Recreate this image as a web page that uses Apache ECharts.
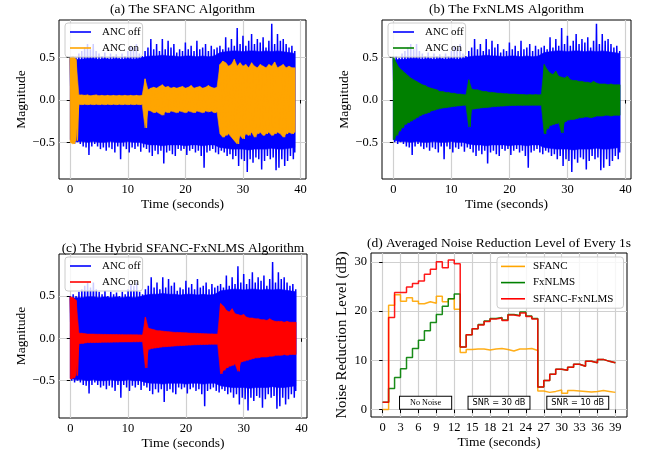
<!DOCTYPE html>
<html><head><meta charset="utf-8">
<script src="https://cdn.jsdelivr.net/npm/echarts@6/dist/echarts.min.js"></script>
<style>html,body{margin:0;padding:0;background:#fff}#c{width:652px;height:456px}</style>
</head><body><div id="c"></div>
<script>
// ---------- data ----------
const sampleStep = 0.5; // seconds between envelope (peak) readings, t = 0 ... 39
const coreStep = 1;     // seconds between dense-core readings, t = 0 ... 39
// ANC off: peak envelope (needles) and dense core envelope
const offUpper = [0.50,0.52,0.50,0.55,0.58,0.62,0.66,0.60,0.66,0.58,0.55,0.52,0.56,0.50,0.55,0.52,0.54,0.50,0.55,0.52,0.58,0.64,0.62,0.66,0.55,0.52,
  0.58,0.62,0.72,0.60,0.66,0.58,0.72,0.60,0.70,0.62,0.66,0.56,0.60,0.58,0.68,0.60,0.64,0.58,0.70,0.60,0.62,0.66,0.58,0.64,0.60,0.62,
  0.64,0.60,0.74,0.62,0.72,0.64,0.85,0.66,0.76,0.64,0.70,0.78,0.66,0.72,0.68,0.74,0.62,0.70,0.90,0.66,0.78,0.70,0.72,0.66,0.62,0.64,0.58];
const offLower = [-0.50,-0.52,-0.50,-0.52,-0.55,-0.56,-0.65,-0.55,-0.52,-0.55,-0.58,-0.56,-0.60,-0.56,-0.58,-0.62,-0.55,-0.70,-0.55,-0.58,-0.62,-0.56,-0.58,-0.55,-0.61,-0.56,
  -0.58,-0.62,-0.66,-0.60,-0.64,-0.60,-0.75,-0.62,-0.60,-0.64,-0.66,-0.58,-0.60,-0.58,-0.65,-0.60,-0.58,-0.62,-0.60,-0.66,-0.80,-0.62,-0.60,-0.58,-0.62,-0.64,
  -0.60,-0.62,-0.66,-0.64,-0.70,-0.66,-0.78,-0.70,-0.72,-0.85,-0.70,-0.74,-0.68,-0.70,-0.82,-0.72,-0.66,-0.70,-0.68,-0.83,-0.80,-0.70,-0.78,-0.72,-0.66,-0.70,-0.62];
const offCoreUpper = [0.47,0.48,0.48,0.49,0.49,0.48,0.49,0.48,0.49,0.48,0.49,0.48,0.49,
  0.51,0.52,0.52,0.53,0.52,0.52,0.51,0.52,0.52,0.51,0.52,0.51,0.52,
  0.56,0.57,0.58,0.58,0.57,0.58,0.58,0.57,0.58,0.57,0.58,0.57,0.56,0.55];
const offCoreLower = [-0.47,-0.49,-0.49,-0.50,-0.49,-0.50,-0.50,-0.49,-0.50,-0.50,-0.49,-0.50,-0.50,
  -0.52,-0.53,-0.53,-0.54,-0.53,-0.53,-0.53,-0.54,-0.53,-0.53,-0.54,-0.53,-0.53,
  -0.56,-0.57,-0.58,-0.58,-0.58,-0.59,-0.58,-0.58,-0.58,-0.57,-0.58,-0.58,-0.57,-0.56];
// ANC on envelopes
const sfancUpper = [0.50,0.52,0.48,0.06,0.06,0.055,0.06,0.05,0.055,0.06,0.05,0.055,0.05,0.055,0.05,0.055,0.05,0.055,0.05,0.055,0.05,0.055,0.05,0.055,0.05,0.055,
  0.25,0.12,0.14,0.15,0.14,0.16,0.18,0.15,0.16,0.14,0.15,0.14,0.15,0.16,0.14,0.15,0.17,0.14,0.15,0.16,0.14,0.15,0.17,0.15,0.14,0.15,
  0.42,0.46,0.44,0.40,0.42,0.48,0.40,0.44,0.40,0.42,0.38,0.44,0.40,0.38,0.42,0.40,0.38,0.42,0.40,0.45,0.38,0.40,0.42,0.38,0.40,0.38,0.38];
const sfancLower = [-0.50,-0.52,-0.48,-0.05,-0.055,-0.05,-0.055,-0.05,-0.055,-0.05,-0.055,-0.05,-0.055,-0.05,-0.055,-0.05,-0.055,-0.05,-0.055,-0.05,-0.055,-0.05,-0.055,-0.05,-0.055,-0.05,
  -0.33,-0.12,-0.13,-0.15,-0.14,-0.16,-0.18,-0.14,-0.15,-0.13,-0.14,-0.15,-0.13,-0.14,-0.15,-0.13,-0.14,-0.15,-0.13,-0.14,-0.15,-0.13,-0.14,-0.13,-0.15,-0.14,
  -0.40,-0.44,-0.42,-0.40,-0.44,-0.48,-0.52,-0.42,-0.46,-0.40,-0.42,-0.38,-0.44,-0.40,-0.38,-0.42,-0.40,-0.38,-0.42,-0.40,-0.38,-0.40,-0.44,-0.40,-0.38,-0.40,-0.38];
const fxnlmsUpper = [0.52,0.44,0.38,0.35,0.32,0.29,0.26,0.24,0.22,0.20,0.18,0.17,0.15,0.14,0.13,0.12,0.10,0.10,0.09,0.09,0.08,0.08,0.07,0.07,0.065,0.06,
  0.24,0.13,0.12,0.12,0.11,0.10,0.10,0.09,0.09,0.085,0.08,0.08,0.075,0.075,0.07,0.07,0.07,0.065,0.065,0.065,0.06,0.065,0.06,0.065,0.06,0.065,
  0.42,0.36,0.32,0.30,0.34,0.28,0.27,0.26,0.28,0.24,0.23,0.23,0.22,0.22,0.21,0.21,0.20,0.22,0.20,0.19,0.19,0.19,0.18,0.19,0.18,0.18,0.18];
const fxnlmsLower = [-0.47,-0.42,-0.37,-0.33,-0.29,-0.27,-0.25,-0.23,-0.21,-0.19,-0.17,-0.16,-0.15,-0.13,-0.12,-0.11,-0.10,-0.095,-0.09,-0.085,-0.08,-0.075,-0.07,-0.068,-0.063,-0.06,
  -0.32,-0.11,-0.105,-0.10,-0.095,-0.09,-0.088,-0.085,-0.08,-0.078,-0.075,-0.072,-0.07,-0.068,-0.066,-0.065,-0.064,-0.063,-0.063,-0.062,-0.062,-0.062,-0.062,-0.062,-0.062,-0.062,
  -0.40,-0.34,-0.30,-0.29,-0.28,-0.27,-0.39,-0.26,-0.24,-0.23,-0.23,-0.22,-0.21,-0.21,-0.20,-0.20,-0.21,-0.20,-0.19,-0.19,-0.19,-0.18,-0.18,-0.19,-0.18,-0.18,-0.18];
const hybridUpper = [0.49,0.48,0.45,0.06,0.06,0.055,0.05,0.05,0.05,0.048,0.048,0.046,0.046,0.045,0.045,0.044,0.044,0.043,0.043,0.042,0.042,0.042,0.041,0.041,0.04,0.04,
  0.25,0.12,0.11,0.10,0.09,0.088,0.085,0.08,0.078,0.075,0.07,0.07,0.068,0.066,0.065,0.062,0.06,0.06,0.058,0.056,0.055,0.054,0.052,0.052,0.05,0.05,
  0.41,0.38,0.33,0.31,0.35,0.29,0.28,0.27,0.28,0.25,0.24,0.24,0.23,0.23,0.22,0.22,0.21,0.23,0.21,0.20,0.20,0.20,0.19,0.20,0.19,0.19,0.19];
const hybridLower = [-0.48,-0.47,-0.44,-0.06,-0.06,-0.055,-0.05,-0.05,-0.05,-0.048,-0.048,-0.046,-0.046,-0.045,-0.045,-0.044,-0.044,-0.043,-0.043,-0.042,-0.042,-0.042,-0.041,-0.041,-0.04,-0.04,
  -0.35,-0.13,-0.12,-0.115,-0.11,-0.105,-0.10,-0.098,-0.095,-0.092,-0.09,-0.088,-0.086,-0.084,-0.082,-0.08,-0.078,-0.076,-0.075,-0.074,-0.072,-0.072,-0.07,-0.07,-0.07,-0.07,
  -0.42,-0.38,-0.35,-0.33,-0.32,-0.30,-0.39,-0.28,-0.27,-0.26,-0.25,-0.24,-0.23,-0.23,-0.22,-0.22,-0.22,-0.21,-0.21,-0.20,-0.20,-0.20,-0.19,-0.20,-0.19,-0.19,-0.19];

// averaged noise reduction (dB) for each 1 s interval [k, k+1], k = 0..38
const nrSFANC = [0,21.2,23.3,22.0,22.7,22.0,21.5,21.9,21.6,23.0,21.9,22.5,20.4,
  11.6,12.2,12.3,12.3,12.1,12.3,12.4,12.2,11.9,12.3,12.3,12.4,12.0,
  3.8,3.5,3.7,4.0,3.3,3.9,3.8,3.7,3.6,3.7,3.9,3.7,3.5];
const nrFxNLMS = [1.5,4.3,6.5,8.3,10.6,12.4,14.1,16.0,17.7,19.3,21.0,22.5,23.5,
  12.7,15.2,16.4,17.3,18.0,18.5,18.7,18.2,19.3,19.1,19.8,19.0,18.5,
  4.6,5.9,7.2,8.2,8.0,8.6,9.2,8.8,9.8,9.5,10.2,9.8,9.5];
const nrHybrid = [1.5,18.7,23.8,23.8,24.9,25.6,26.1,27.5,28.5,30.0,28.8,30.4,29.6,
  12.7,15.2,16.4,17.2,17.9,18.4,18.6,18.1,19.2,19.0,19.6,18.9,18.4,
  4.6,5.9,7.2,8.2,8.0,8.6,9.2,8.8,9.8,9.5,10.2,9.8,9.5];

const panelTitles = ['(a) The SFANC Algorithm','(b) The FxNLMS Algorithm','(c) The Hybrid SFANC-FxNLMS Algorithm','(d) Averaged Noise Reduction Level of Every 1s'];
const waveLegend = ['ANC off','ANC on'];
const nrLegend = ['SFANC','FxNLMS','SFANC-FxNLMS'];
const waveTicksX = [0,10,20,30,40];
const waveTicksY = [-0.5,0,0.5];
const nrTicksX = [0,3,6,9,12,15,18,21,24,27,30,33,36,39];
const nrTicksY = [0,10,20,30];
const annotTexts = ['No Noise','SNR = 30 dB','SNR = 10 dB'];
const annotTime = [7.2,19.5,32.7];
const annotLevel = 1.4;

// ---------- build ----------
const SERIF = 'Liberation Serif';
function zigzag(up, lo){
  const pts = [];
  for (let i = 0; i < up.length; i++){
    const t = i * sampleStep;
    pts.push([t, up[i]]);
    pts.push([i === up.length - 1 ? t : t + sampleStep / 2, lo[i]]);
  }
  return pts;
}
function stepPts(v){
  const pts = v.map((y, k) => [k, y]);
  pts.push([v.length, v[v.length - 1]]);
  return pts;
}
function band(name, idx, up, lo, step, color, z){
  return {name:name, type:'custom', xAxisIndex:idx, yAxisIndex:idx, silent:true, z:z, clip:true,
    data:[[0, 0]], itemStyle:{color:color},
    renderItem:(params, api) => {
      const top = up.map((v, k) => api.coord([k * step, v]));
      const bot = lo.map((v, k) => api.coord([k * step, v])).reverse();
      return {type:'polygon', shape:{points:top.concat(bot)}, style:{fill:color, stroke:color, lineWidth:0.6}};
    }};
}
function needles(name, idx, up, lo, color, z, w){
  return {name:name, type:'line', xAxisIndex:idx, yAxisIndex:idx, data:zigzag(up, lo),
    symbol:'none', silent:true, lineStyle:{color:color, width:w}, itemStyle:{color:color}, z:z};
}
const grids = [
  {left:59, top:20, width:247, height:159},
  {left:382, top:20, width:249, height:159},
  {left:59, top:254, width:248, height:164},
  {left:371, top:253, width:256, height:164}
].map(g => Object.assign(g, {show:true, borderColor:'#000', borderWidth:1, backgroundColor:'rgba(0,0,0,0)'}));

const gridLine = {show:true, lineStyle:{color:'#d0d0d0', width:1.2}};
function xAx(i, ticks, min, max){
  return {gridIndex:i, type:'value', min:min, max:max,
    name:'Time (seconds)', nameLocation:'middle', nameGap:18,
    nameTextStyle:{fontFamily:SERIF, fontSize:13.5, color:'#000'},
    axisLine:{show:false},
    axisTick:{show:true, inside:false, length:3.5, customValues:ticks, lineStyle:{color:'#000'}},
    axisLabel:{customValues:ticks, fontFamily:SERIF, fontSize:12.5, color:'#000', margin:4},
    splitLine:gridLine};
}
function yAx(i, ticks, min, max, name, gap, fmt, nameSize){
  return {gridIndex:i, type:'value', min:min, max:max,
    name:name, nameLocation:'middle', nameGap:gap,
    nameTextStyle:{fontFamily:SERIF, fontSize:nameSize, color:'#000'},
    axisLine:{show:false},
    axisTick:{show:true, inside:false, length:3.5, customValues:ticks, lineStyle:{color:'#000'}},
    axisLabel:{customValues:ticks, fontFamily:SERIF, fontSize:12.5, color:'#000', margin:4, formatter:fmt},
    splitLine:gridLine};
}
const magFmt = v => (v < 0 ? '\u2212' : '') + Math.abs(v).toFixed(1);
const intFmt = v => String(Math.round(v));

const xAxes = [
  xAx(0, waveTicksX, -1.95, 40.95),
  xAx(1, waveTicksX, -1.95, 40.95),
  xAx(2, waveTicksX, -1.95, 40.95),
  xAx(3, nrTicksX, -1.95, 40.95)
];
const yAxes = [
  yAx(0, waveTicksY, -0.933, 0.945, 'Magnitude', 31, magFmt, 13.5),
  yAx(1, waveTicksY, -0.933, 0.945, 'Magnitude', 31, magFmt, 13.5),
  yAx(2, waveTicksY, -0.94, 0.995, 'Magnitude', 31, magFmt, 13.5),
  yAx(3, nrTicksY, -1.5, 31.8, 'Noise Reduction Level (dB)', 21, intFmt, 14.8)
];

const onSeries = [[sfancUpper, sfancLower, '#ffa500'], [fxnlmsUpper, fxnlmsLower, '#008000'], [hybridUpper, hybridLower, '#ff0000']];
const series = [];
const legends = [];
onSeries.forEach((s, i) => {
  series.push(band('off' + i, i, offCoreUpper, offCoreLower, coreStep, '#0000ff', 2));
  series.push(needles('offN' + i, i, offUpper, offLower, '#0000ff', 2, 1.5));
  series.push(band('on' + i, i, s[0], s[1], sampleStep, s[2], 3));
  series.push(needles('onN' + i, i, s[0], s[1], s[2], 3, 1.2));
  const g = grids[i];
  legends.push({data:['off' + i, 'on' + i], orient:'vertical', left:g.left + 6, top:g.top + 3,
    formatter: n => n.startsWith('off') ? waveLegend[0] : waveLegend[1],
    selectedMode:false, icon:'rect', itemWidth:21, itemHeight:1.6, itemGap:4, padding:[3,2,3,5],
    backgroundColor:'rgba(255,255,255,0.8)', borderColor:'#cccccc', borderWidth:1, borderRadius:3,
    textStyle:{fontFamily:SERIF, fontSize:11, lineHeight:12, color:'#000', padding:[0,0,0,6]}, z:10});
});
const nrData = [[nrSFANC, '#ffa500'], [nrFxNLMS, '#008000'], [nrHybrid, '#ff0000']];
nrData.forEach((d, j) => {
  const s = {name:nrLegend[j], type:'line', xAxisIndex:3, yAxisIndex:3, data:stepPts(d[0]), step:'end',
    symbol:'none', silent:true, lineStyle:{color:d[1], width:1.5, opacity:0.9}, itemStyle:{color:d[1]}, z:3 + j};
  if (j === 2){
    s.markPoint = {symbol:'rect', symbolSize:1, silent:true, itemStyle:{color:'rgba(0,0,0,0)'},
      data: annotTexts.map((txt, k) => ({coord:[annotTime[k], annotLevel], value:txt,
        label:{show:true, position:'inside', formatter:txt, color:'#000',
          fontFamily: k === 0 ? SERIF : 'DejaVu Sans', fontSize:8.2,
          backgroundColor:'#fff', borderColor:'#000', borderWidth:1,
          padding: k === 0 ? [2,10,2,10] : [2,4,2,4]}}))};
  }
  series.push(s);
});
legends.push({data:nrLegend, orient:'vertical', left:497, top:257, selectedMode:false,
  icon:'rect', itemWidth:24, itemHeight:1.6, itemGap:4.2, padding:[3.4,10,3.4,4],
  backgroundColor:'rgba(255,255,255,0.8)', borderColor:'#cccccc', borderWidth:1, borderRadius:3,
  textStyle:{fontFamily:SERIF, fontSize:11, lineHeight:12, color:'#000', padding:[0,0,0,3]}, z:10});

const titleTops = [2, 2, 241, 236];
const titles = panelTitles.map((t, i) => ({text:t, left:grids[i].left + grids[i].width / 2, top:titleTops[i],
  textAlign:'center', padding:0, textStyle:{fontFamily:SERIF, fontSize:13.5, fontWeight:'normal', color:'#000'}}));

const chart = echarts.init(document.getElementById('c'), null, {renderer:'canvas'});
chart.setOption({
  animation:false, backgroundColor:'#fff',
  title:titles, grid:grids, xAxis:xAxes, yAxis:yAxes, legend:legends, series:series
});
</script></body></html>
